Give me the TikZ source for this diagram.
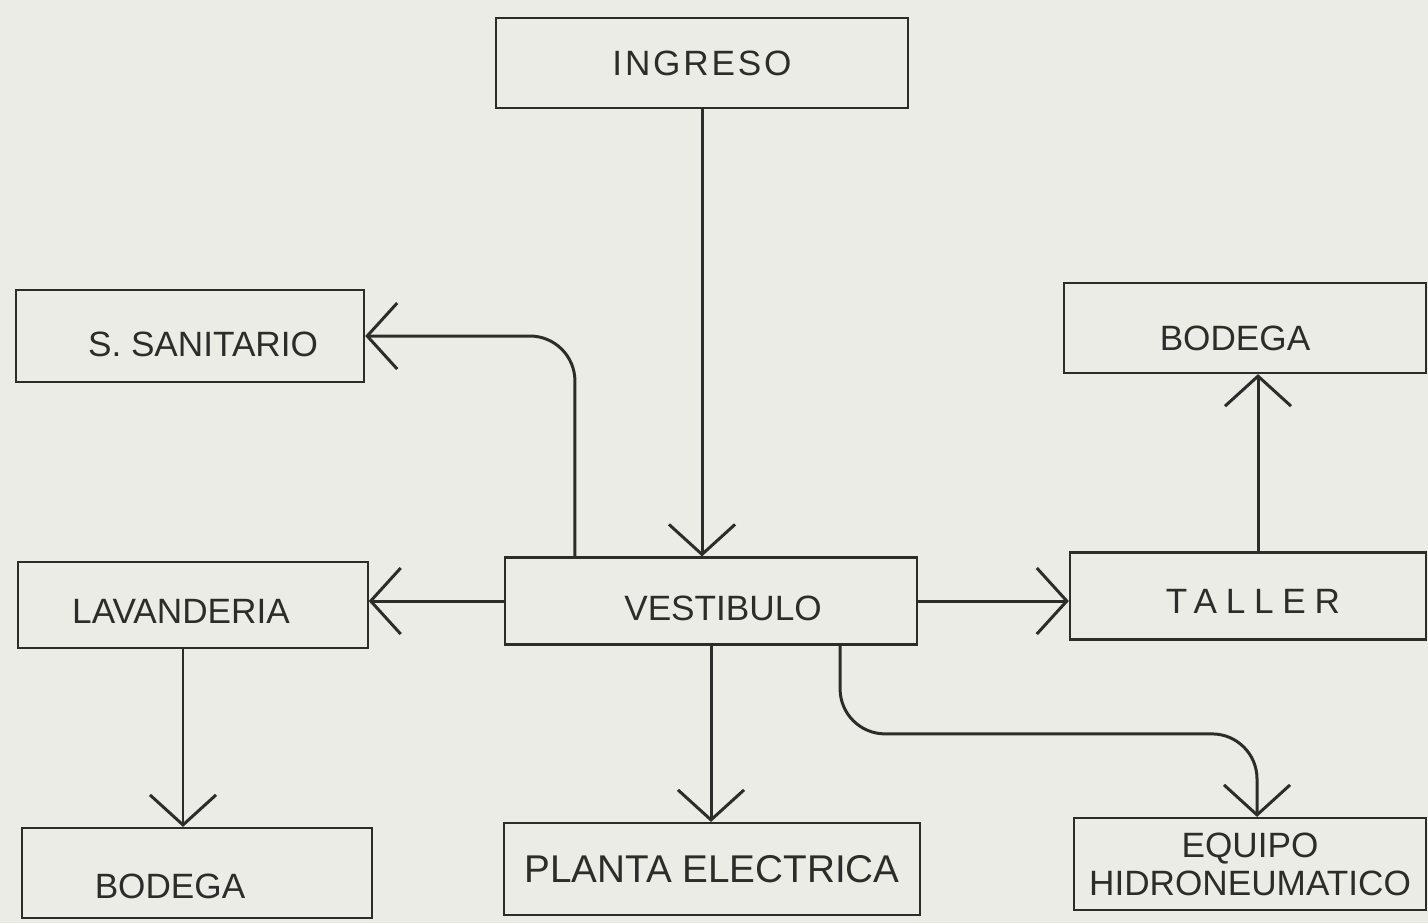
\documentclass[tikz,border=0pt]{standalone}
\usepackage{fontspec}
\setmainfont{Liberation Sans}
\usetikzlibrary{positioning}
\usetikzlibrary{arrows.meta}
\definecolor{paper}{RGB}{236,236,230}
\definecolor{ink}{RGB}{44,44,42}
\tikzset{
    mybox/.style = {rectangle, draw=ink, line width=0.6pt, align=center, inner sep=0pt, text=ink, font=\fontsize{10}{12}\selectfont},
    myboxs/.style = {mybox, font=\fontsize{10}{12}\selectfont\addfontfeature{LetterSpace=#1}},
    nudge/.style 2 args = {text height=#2, text depth=0pt, execute at begin node={\hspace*{#1}}},
    edgea/.style = {-{Straight Barb[length=0.3cm,width=0.66cm]}, line width=0.85pt, ink},
    edger/.style = {edgea, rounded corners=0.45cm}, % curved runs
}
\begin{document}
\begin{tikzpicture}[x=0.01cm, y=-0.01cm]
  \fill[paper] (0,0) rectangle (1428,923);
  \useasboundingbox (0,0) rectangle (1428,923);
  % boxes
  \node[myboxs=8, minimum width=4.12cm, minimum height=0.9cm] (ingreso) at (702,63) {INGRESO};
  \node[mybox, nudge={0.26cm}{0.4cm}, minimum width=3.48cm, minimum height=0.92cm] (sanit) at (190,336) {S. SANITARIO};
  \node[mybox, nudge={-0.24cm}{0.36cm}, minimum width=3.49cm, minimum height=0.86cm] (lavan) at (193,605) {LAVANDERIA};
  \node[mybox, nudge={0.24cm}{0.38cm}, minimum width=4.12cm, minimum height=0.87cm] (vest) at (711,601) {VESTIBULO};
  \node[myboxs=25, nudge={0.1cm}{0.34cm}, minimum width=3.56cm, minimum height=0.87cm] (taller) at (1248,596) {TALLER};
  \node[mybox, nudge={-0.2cm}{0.44cm}, minimum width=3.61cm, minimum height=0.9cm] (bodegaa) at (1245,328) {BODEGA};
  \node[mybox, nudge={-0.54cm}{0.5cm}, minimum width=3.5cm, minimum height=0.9cm] (bodegab) at (197,873) {BODEGA};
  \node[mybox, font=\fontsize{11}{13}\selectfont, minimum width=4.15cm, minimum height=0.92cm] (planta) at (712,869) {PLANTA ELECTRICA};
  \node[mybox, font=\fontsize{10}{10.8}\selectfont, minimum width=3.51cm, minimum height=0.92cm] (equipo) at (1250,864) {EQUIPO\\HIDRONEUMATICO};
  % connectors
  \draw[edgea] (ingreso.south) -- (ingreso.south |- vest.north);
  \draw[edger] ([xshift=-1.36cm]vest.north) |- (sanit.east);
  \draw[edgea] (vest.west) -- (vest.west -| lavan.east);
  \draw[edgea] (vest.east) -- (vest.east -| taller.west);
  \draw[edgea] ([xshift=0.1cm]taller.north) -- ([xshift=0.1cm]taller.north |- bodegaa.south);
  \draw[edgea] ([xshift=-0.1cm]lavan.south) -- ([xshift=-0.1cm]lavan.south |- bodegab.north);
  \draw[edgea] (vest.south) -- (vest.south |- planta.north);
  \draw[edger] ([xshift=1.29cm]vest.south) |- ([xshift=0.07cm,yshift=0.83cm]equipo.north) -- ([xshift=0.07cm]equipo.north);
\end{tikzpicture}
\end{document}
